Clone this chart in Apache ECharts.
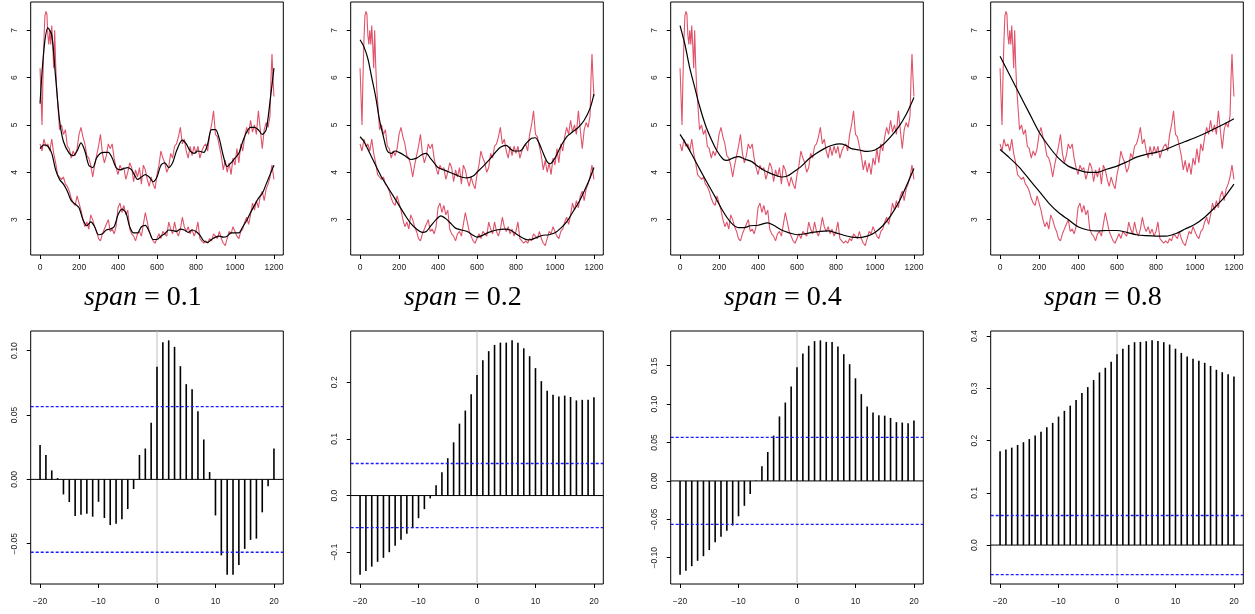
<!DOCTYPE html>
<html>
<head>
<meta charset="utf-8">
<script src="https://cdn.jsdelivr.net/npm/echarts@6/dist/echarts.min.js"></script>
<style>html,body{margin:0;padding:0;background:#fff}#c{width:1255px;height:614px}</style>
</head>
<body>
<div id="c"></div>
<script>
// ---------- DATA ----------
const upperRed = [[0,6.2],[5,5.6],[10,5.0],[15,6.0],[20,6.8],[25,7.3],[30,7.4],[35,7.35],[40,6.9],[45,6.7],[50,7.0],[55,6.7],[60,7.1],[65,6.7],[70,6.2],[75,7.0],[80,6.3],[85,5.8],[90,5.5],[95,5.2],[100,4.9],
[110,5.0],[120,4.8],[130,4.9],[140,4.55],[150,4.5],[160,4.3],[170,4.45],[180,4.35],[190,4.5],[200,4.8],[210,4.95],[220,4.75],[230,4.6],[240,4.35],[250,4.3],[260,4.15],[270,3.9],[280,4.15],[290,4.35],[300,4.55],[310,4.8],[320,4.4],[330,4.2],[340,4.35],[350,4.6],[360,4.5],[370,4.6],[380,4.3],[390,4.1],[400,3.95],[410,4.15],[420,4.05],[430,4.1],[440,3.85],[450,4.0],[460,4.2],[470,4.1],[480,3.8],[490,4.05],[500,3.9],[510,4.1],[520,3.75],[530,4.15],[540,4.05],[550,3.85],[560,3.7],[570,3.9],[580,3.75],[590,3.65],[600,3.95],[610,4.15],[620,4.45],[630,4.3],[640,4.2],[650,4.0],[660,4.1],[670,4.4],[680,4.3],[690,4.55],[700,4.6],[710,4.75],[720,4.95],[730,4.6],[740,4.7],[750,4.45],[760,4.3],[770,4.55],[780,4.35],[790,4.55],[800,4.4],[810,4.55],[820,4.3],[830,4.45],[840,4.55],[850,4.6],[860,4.45],[870,4.8],[880,5.0],[890,5.3],[900,4.8],[910,4.75],[920,4.55],[930,4.35],[940,4.05],[950,4.25],[960,4.0],[970,4.2],[980,3.95],[990,4.3],[1000,4.15],[1010,4.5],[1020,4.2],[1030,4.6],[1040,4.45],[1050,4.75],[1060,4.95],[1070,4.8],[1080,5.1],[1090,4.85],[1100,5.0],[1110,4.8],[1120,5.3],[1130,4.9],[1140,4.5],[1150,4.9],[1160,5.05],[1170,4.95],[1180,5.2],[1185,6.0],[1190,6.5],[1195,6.0],[1200,5.6]];

const lowerRed = [[0,4.6],[10,4.45],[20,4.7],[30,4.55],[40,4.6],[50,4.45],[60,4.7],[70,4.4],[80,4.2],[90,3.95],[100,3.9],[110,3.85],[120,3.9],[130,3.75],[140,3.7],[150,3.6],[160,3.45],[170,3.35],[180,3.3],[190,3.5],[200,3.35],[210,3.2],[220,3.0],[230,2.85],[240,2.95],[250,2.8],[260,3.1],[270,3.0],[280,2.85],[290,2.75],[300,2.6],[310,2.55],[320,2.7],[330,2.8],[340,2.9],[350,3.0],[360,2.75],[370,2.8],[380,2.7],[390,2.85],[400,3.25],[410,3.35],[420,3.15],[430,3.3],[440,3.1],[450,3.2],[460,2.8],[470,2.7],[480,2.65],[490,2.55],[500,2.7],[510,2.75],[520,2.65],[530,2.9],[540,3.15],[550,2.95],[560,2.75],[570,2.65],[580,2.55],[590,2.5],[600,2.6],[610,2.7],[620,2.6],[630,2.75],[640,2.7],[650,2.65],[660,2.95],[670,2.8],[680,2.7],[690,2.95],[700,2.75],[710,2.65],[720,2.8],[730,3.05],[740,2.85],[750,2.75],[760,2.85],[770,2.7],[780,2.8],[790,2.65],[800,2.75],[810,2.95],[820,2.6],[830,2.55],[840,2.5],[850,2.55],[860,2.5],[870,2.6],[880,2.55],[890,2.7],[900,2.65],[910,2.6],[920,2.75],[930,2.6],[940,2.5],[950,2.45],[960,2.6],[970,2.75],[980,2.7],[990,2.85],[1000,2.75],[1010,2.65],[1020,2.6],[1030,2.75],[1040,2.8],[1050,2.95],[1060,3.05],[1070,2.9],[1080,3.1],[1090,3.35],[1100,3.2],[1110,3.4],[1120,3.25],[1130,3.5],[1140,3.6],[1150,3.4],[1160,3.65],[1170,3.75],[1180,3.9],[1190,4.15],[1200,3.85]];

const smooth01Upper = [[0,5.45],[20,6.6],[40,7.05],[60,6.9],[80,6.0],[100,5.1],[120,4.65],[150,4.4],[170,4.35],[190,4.45],[210,4.62],[230,4.45],[250,4.15],[270,4.1],[290,4.3],[310,4.4],[330,4.42],[350,4.42],[370,4.3],[390,4.1],[410,4.05],[430,4.08],[450,4.1],[470,4.05],[490,3.9],[500,3.85],[520,3.9],[540,3.95],[560,3.9],[580,3.8],[600,3.9],[620,4.15],[640,4.2],[660,4.1],[680,4.2],[700,4.45],[730,4.68],[750,4.6],[770,4.45],[790,4.4],[810,4.45],[840,4.42],[860,4.6],[880,4.9],[900,4.9],[920,4.7],[940,4.35],[960,4.12],[980,4.2],[1000,4.3],[1020,4.4],[1040,4.65],[1060,4.85],[1080,4.95],[1100,4.95],[1120,4.9],[1140,4.8],[1160,4.9],[1180,5.5],[1200,6.2]];
const smooth01Lower = [[0,4.5],[20,4.58],[40,4.55],[60,4.4],[80,4.05],[100,3.85],[120,3.75],[140,3.6],[160,3.4],[180,3.33],[200,3.25],[220,3.0],[240,2.87],[260,2.95],[280,2.85],[300,2.68],[320,2.7],[340,2.78],[360,2.8],[380,2.85],[400,3.1],[420,3.22],[440,3.15],[460,2.85],[480,2.72],[500,2.72],[520,2.85],[540,2.88],[560,2.75],[580,2.58],[600,2.58],[620,2.65],[640,2.7],[660,2.78],[680,2.77],[700,2.75],[720,2.8],[740,2.78],[760,2.73],[780,2.78],[800,2.75],[820,2.67],[840,2.55],[860,2.52],[880,2.58],[900,2.63],[920,2.65],[940,2.63],[960,2.65],[980,2.72],[1000,2.72],[1020,2.72],[1040,2.85],[1060,2.98],[1080,3.15],[1100,3.3],[1120,3.45],[1140,3.55],[1160,3.75],[1180,3.95],[1200,4.15]];

const smooth02Upper = [[0,6.8],[20,6.65],[40,6.4],[60,6.0],[80,5.6],[100,5.1],[120,4.75],[140,4.45],[160,4.4],[180,4.45],[200,4.42],[230,4.35],[260,4.27],[290,4.3],[320,4.38],[340,4.4],[360,4.3],[380,4.2],[400,4.1],[430,4.05],[460,4.0],[490,3.95],[520,3.9],[550,3.88],[580,3.92],[600,4.0],[630,4.12],[660,4.25],[690,4.4],[720,4.53],[750,4.57],[770,4.5],[790,4.45],[820,4.45],[850,4.6],[880,4.72],[900,4.73],[920,4.6],[940,4.4],[960,4.22],[975,4.18],[1000,4.3],[1030,4.55],[1060,4.75],[1090,4.85],[1120,4.95],[1150,5.1],[1180,5.35],[1200,5.65]];
const smooth02Lower = [[0,4.75],[20,4.65],[50,4.4],[80,4.15],[110,3.9],[140,3.7],[170,3.5],[200,3.3],[230,3.1],[260,2.92],[290,2.8],[320,2.73],[340,2.75],[360,2.85],[390,3.0],[415,3.08],[440,3.02],[470,2.9],[490,2.82],[520,2.78],[550,2.75],[580,2.67],[600,2.63],[630,2.67],[660,2.73],[700,2.78],[740,2.8],[770,2.78],[800,2.7],[830,2.62],[860,2.57],[880,2.58],[910,2.63],[940,2.67],[970,2.68],[1000,2.72],[1030,2.82],[1060,2.95],[1090,3.15],[1120,3.35],[1150,3.6],[1180,3.88],[1200,4.1]];

const smooth04Upper = [[0,7.1],[25,6.7],[50,6.2],[75,5.8],[100,5.4],[130,5.0],[160,4.7],[190,4.45],[220,4.28],[240,4.25],[270,4.3],[300,4.33],[330,4.28],[370,4.22],[400,4.12],[440,4.02],[480,3.95],[520,3.9],[550,3.92],[580,4.0],[620,4.12],[660,4.28],[700,4.4],[740,4.5],[780,4.57],[820,4.6],[850,4.57],[880,4.5],[920,4.47],[960,4.44],[1000,4.47],[1040,4.58],[1080,4.75],[1120,4.95],[1160,5.22],[1200,5.58]];
const smooth04Lower = [[0,4.8],[30,4.6],[60,4.38],[90,4.15],[120,3.92],[150,3.7],[180,3.48],[210,3.25],[240,3.05],[270,2.9],[300,2.83],[330,2.83],[360,2.87],[400,2.88],[450,2.93],[480,2.88],[520,2.78],[560,2.72],[600,2.68],[640,2.7],[680,2.73],[720,2.75],[760,2.76],[800,2.72],[840,2.67],[880,2.63],[920,2.62],[960,2.65],[1000,2.73],[1040,2.87],[1080,3.08],[1120,3.35],[1160,3.7],[1200,4.08]];

const smooth08Upper = [[0,6.45],[50,6.05],[100,5.65],[150,5.25],[200,4.85],[250,4.55],[300,4.3],[350,4.13],[400,4.05],[450,4.0],[500,4.0],[550,4.07],[600,4.13],[650,4.22],[700,4.32],[750,4.38],[800,4.42],[850,4.48],[900,4.57],[950,4.65],[1000,4.73],[1050,4.82],[1100,4.92],[1150,5.02],[1200,5.13]];
const smooth08Lower = [[0,4.48],[50,4.3],[100,4.1],[150,3.85],[200,3.6],[250,3.35],[300,3.15],[350,3.0],[400,2.85],[450,2.78],[500,2.76],[550,2.77],[600,2.77],[650,2.73],[700,2.68],[750,2.66],[800,2.65],[850,2.65],[900,2.7],[950,2.8],[1000,2.9],[1050,3.05],[1100,3.25],[1150,3.47],[1200,3.75]];

const spanLabels = ['0.1', '0.2', '0.4', '0.8'];

const lags = [-20,-19,-18,-17,-16,-15,-14,-13,-12,-11,-10,-9,-8,-7,-6,-5,-4,-3,-2,-1,0,1,2,3,4,5,6,7,8,9,10,11,12,13,14,15,16,17,18,19,20];
const ccf01 = [0.0267,0.019,0.007,0.001,-0.0117,-0.0176,-0.0285,-0.0275,-0.0267,-0.029,-0.0174,-0.030,-0.0355,-0.0345,-0.031,-0.023,-0.0075,0.019,0.024,0.044,0.0876,0.1065,0.108,0.103,0.088,0.074,0.070,0.053,0.031,0.0057,-0.028,-0.059,-0.074,-0.074,-0.0666,-0.054,-0.047,-0.046,-0.0256,-0.0054,0.024];
const ccf02 = [-0.1396,-0.133,-0.1255,-0.117,-0.110,-0.100,-0.0886,-0.078,-0.0675,-0.0575,-0.040,-0.024,-0.005,0.018,0.041,0.066,0.094,0.127,0.150,0.179,0.213,0.239,0.255,0.266,0.270,0.270,0.274,0.270,0.260,0.246,0.225,0.202,0.185,0.178,0.175,0.1765,0.174,0.168,0.169,0.169,0.1735];
const ccf04 = [-0.122,-0.117,-0.111,-0.104,-0.098,-0.090,-0.080,-0.0726,-0.065,-0.058,-0.046,-0.0324,-0.017,0.0005,0.019,0.0376,0.059,0.084,0.102,0.123,0.148,0.166,0.176,0.182,0.183,0.181,0.181,0.175,0.165,0.152,0.1336,0.113,0.097,0.089,0.0856,0.085,0.082,0.0765,0.076,0.075,0.0787];
const ccf08 = [0.1796,0.183,0.1866,0.1917,0.197,0.203,0.210,0.217,0.2255,0.234,0.246,0.257,0.267,0.278,0.291,0.3025,0.316,0.3306,0.3395,0.351,0.3656,0.376,0.3834,0.3885,0.389,0.3904,0.392,0.391,0.3885,0.384,0.376,0.368,0.361,0.3567,0.353,0.349,0.343,0.3357,0.331,0.327,0.323];
const ciLevel = 0.0566;

const topXTicks = [0,200,400,600,800,1000,1200];
const topYTicks = [3,4,5,6,7];
const ccfXTicks = [-20,-10,0,10,20];
const ccfYTicks = [[-0.05,0,0.05,0.10],[-0.1,0,0.1,0.2],[-0.10,-0.05,0,0.05,0.10,0.15],[0,0.1,0.2,0.3,0.4]];
const ccfYDecimals = [2,1,2,1];

// ---------- CHART ----------
const smoothSets = [[smooth01Upper,smooth01Lower],[smooth02Upper,smooth02Lower],[smooth04Upper,smooth04Lower],[smooth08Upper,smooth08Lower]];
const ccfSets = [ccf01, ccf02, ccf04, ccf08];

function ext(lo, hi){ const d=(hi-lo)*0.04; return [lo-d, hi+d]; }
const fmtNum = (v, dec) => { const s = Math.abs(v).toFixed(dec); return (v < -1e-9 ? '\u2212' : '') + s; };

const PL = [30.7, 350.7, 670.7, 990.7];
const PW = 252.6, PH = 253;
const TOP1 = 2, TOP2 = 331;
const labelFont = {fontFamily: 'Liberation Sans, Arial, sans-serif', fontSize: 8.5, color: '#222'};

const allRed = upperRed.concat(lowerRed).map(p=>p[1]);
const topY = ext(Math.min(...allRed), Math.max(...allRed));
const topX = ext(0, 1200);
const ccfX = ext(lags[0], lags[lags.length-1]);

const tickStyle = ticks => ({show:true, inside:false, length:4, lineStyle:{color:'#000', width:1}, customValues: ticks});
const noLine = {show:false, onZero:false};

const grid=[], xAxis=[], yAxis=[], series=[], graphic=[];
for (let i=0;i<4;i++){
  grid.push({left: PL[i], top: TOP1, width: PW, height: PH, show: true, borderColor: '#000', borderWidth: 1, backgroundColor: 'transparent'});
  grid.push({left: PL[i], top: TOP2, width: PW, height: PH, show: true, borderColor: '#000', borderWidth: 1, backgroundColor: 'transparent'});
}
const plain = {type:'line', showSymbol:false, symbol:'none', animation:false, silent:true};
for (let i=0;i<4;i++){
  const gt = 2*i, gb = 2*i+1;
  xAxis.push({gridIndex: gt, type: 'value', min: topX[0], max: topX[1], splitLine:{show:false}, axisLine: noLine,
    axisTick: tickStyle(topXTicks),
    axisLabel: Object.assign({margin: 8, customValues: topXTicks, formatter: v => String(v)}, labelFont)});
  yAxis.push({gridIndex: gt, type: 'value', min: topY[0], max: topY[1], splitLine:{show:false}, axisLine: noLine,
    axisTick: tickStyle(topYTicks),
    axisLabel: Object.assign({margin: 12, rotate: 90, customValues: topYTicks, formatter: v => String(v)}, labelFont)});
  const cc = ccfSets[i];
  const yr = ext(Math.min(...cc, -ciLevel), Math.max(...cc, ciLevel));
  xAxis.push({gridIndex: gb, type: 'value', min: ccfX[0], max: ccfX[1], splitLine:{show:false}, axisLine: noLine,
    axisTick: tickStyle(ccfXTicks),
    axisLabel: Object.assign({margin: 13, customValues: ccfXTicks, formatter: v => fmtNum(v,0)}, labelFont)});
  const dec = ccfYDecimals[i];
  yAxis.push({gridIndex: gb, type: 'value', min: yr[0], max: yr[1], splitLine:{show:false}, axisLine: noLine,
    axisTick: tickStyle(ccfYTicks[i]),
    axisLabel: Object.assign({margin: 12, rotate: 90, customValues: ccfYTicks[i], formatter: v => fmtNum(v, dec)}, labelFont)});

  // top series
  series.push(Object.assign({xAxisIndex: gt, yAxisIndex: gt, data: upperRed, lineStyle:{color:'#DF536B', width:1.1}, z:2}, plain));
  series.push(Object.assign({xAxisIndex: gt, yAxisIndex: gt, data: lowerRed, lineStyle:{color:'#DF536B', width:1.1}, z:2}, plain));
  series.push(Object.assign({xAxisIndex: gt, yAxisIndex: gt, data: smoothSets[i][0], smooth:0.3, lineStyle:{color:'#000', width:1.2}, z:3}, plain));
  series.push(Object.assign({xAxisIndex: gt, yAxisIndex: gt, data: smoothSets[i][1], smooth:0.3, lineStyle:{color:'#000', width:1.2}, z:3}, plain));

  // bottom: reference lines + ccf bars
  series.push(Object.assign({xAxisIndex: gb, yAxisIndex: gb, data: [[0, yr[0]],[0, yr[1]]], lineStyle:{color:'#BEBEBE', width:1}, z:1}, plain));
  series.push({type:'bar', xAxisIndex: gb, yAxisIndex: gb, data: lags.map((l,k)=>[l, cc[k]]), barWidth: 1.6,
    itemStyle:{color:'#000'}, z:2, animation:false, silent:true});
  series.push(Object.assign({xAxisIndex: gb, yAxisIndex: gb, data: [[ccfX[0],0],[ccfX[1],0]], lineStyle:{color:'#000', width:1}, z:3}, plain));
  series.push(Object.assign({xAxisIndex: gb, yAxisIndex: gb, data: [[ccfX[0],ciLevel],[ccfX[1],ciLevel]], lineStyle:{color:'#1a1aff', width:1.3, type:[3,2]}, z:4}, plain));
  series.push(Object.assign({xAxisIndex: gb, yAxisIndex: gb, data: [[ccfX[0],-ciLevel],[ccfX[1],-ciLevel]], lineStyle:{color:'#1a1aff', width:1.3, type:[3,2]}, z:4}, plain));

  graphic.push({type:'text', left: PL[i] + PW/2 - 5 - 68, top: 284, silent:true,
    style:{text: '{i|span} = ' + spanLabels[i], fill:'#000', font: '28px "Liberation Serif", serif',
      rich:{i:{fontStyle:'italic', fontFamily:'Liberation Serif, serif', fontSize:28}}}});
}

const chart = echarts.init(document.getElementById('c'), null, {renderer:'canvas'});
chart.setOption({animation:false, backgroundColor:'#fff', grid, xAxis, yAxis, series, graphic});
</script>
</body>
</html>
